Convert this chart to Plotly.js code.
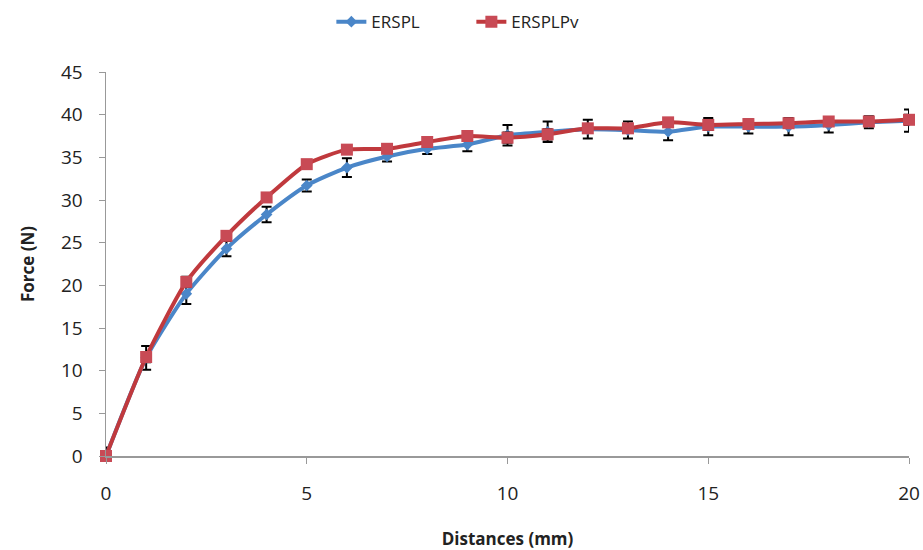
<!DOCTYPE html>
<html>
<head>
<meta charset="utf-8">
<script src="https://cdn.plot.ly/plotly-3.0.1.min.js"></script>
<style>html,body{margin:0;padding:0;background:#fff;}#chart{width:923px;height:550px;}</style>
</head>
<body>
<div id="chart"></div>
<script>
const distances = [0,1,2,3,4,5,6,7,8,9,10,11,12,13,14,15,16,17,18,19,20];
const erspl = [0,11.5,19,24.3,28.3,31.7,33.8,35.1,36,36.5,37.6,38,38.3,38.2,38,38.6,38.6,38.6,38.8,39.1,39.3];
const ersplErr = [1.0,1.4,1.2,0.9,0.9,0.7,1.1,0.6,0.6,0.8,1.2,1.2,1.1,1.0,1.0,1.0,0.8,1.0,0.9,0.7,1.3];
const ersplpv = [0,11.6,20.4,25.8,30.3,34.2,35.9,36,36.8,37.5,37.3,37.7,38.4,38.4,39.1,38.8,38.9,39,39.2,39.2,39.4];
const ersplpvErr = [0.5,0.6,0.6,0.5,0.5,0.5,0.5,0.5,0.5,0.5,0.6,0.6,0.5,0.5,0.5,0.6,0.5,0.5,0.5,0.5,0.6];

const traces = [
  {
    x: distances, y: erspl, name: 'ERSPL', type: 'scatter', mode: 'lines+markers',
    line: {color: '#4a86c8', width: 4, shape: 'spline', smoothing: 0.6},
    marker: {symbol: 'diamond', size: 9, color: '#4a86c8'},
    error_y: {type: 'data', array: ersplErr, visible: true, color: '#000', thickness: 2, width: 5},
    cliponaxis: false
  },
  {
    x: distances, y: ersplpv, name: 'ERSPLPv', type: 'scatter', mode: 'lines+markers',
    line: {color: '#c0393d', width: 4, shape: 'spline', smoothing: 0.6},
    marker: {symbol: 'square', size: 12, color: '#c84a55'},
    error_y: {type: 'data', array: ersplpvErr, visible: true, color: '#000', thickness: 2, width: 5},
    cliponaxis: false
  }
];

const layout = {
  width: 923, height: 550,
  margin: {l: 106, r: 14, t: 72, b: 94, autoexpand: false},
  paper_bgcolor: '#fff', plot_bgcolor: '#fff',
  font: {family: 'Open Sans, sans-serif', color: '#222'},
  showlegend: true,
  legend: {orientation: 'h', x: 0.455, xanchor: 'center', y: 1.13, yanchor: 'middle',
           entrywidth: 95, font: {size: 17, color: '#222'}},
  xaxis: {
    range: [0, 20], tickvals: [0,5,10,15,20], showgrid: false, zeroline: false,
    showline: true, linecolor: '#999', linewidth: 1.5,
    ticks: 'outside', ticklen: 6, tickcolor: '#999', ticklabelstandoff: 14,
    tickfont: {size: 19, color: '#222'},
    title: {text: 'Distances (mm)', font: {size: 17, color: '#222', weight: 'bold'}, standoff: 30}
  },
  yaxis: {
    range: [0, 45], dtick: 5, showgrid: false, zeroline: false,
    showline: true, linecolor: '#999', linewidth: 1.5,
    ticks: 'outside', ticklen: 6, tickcolor: '#999', ticklabelstandoff: 12,
    tickfont: {size: 19, color: '#222'},
    title: {text: 'Force (N)', font: {size: 17, color: '#222', weight: 'bold'}, standoff: 22}
  }
};

Plotly.newPlot('chart', traces, layout, {displayModeBar: false, staticPlot: true});
</script>
</body>
</html>
